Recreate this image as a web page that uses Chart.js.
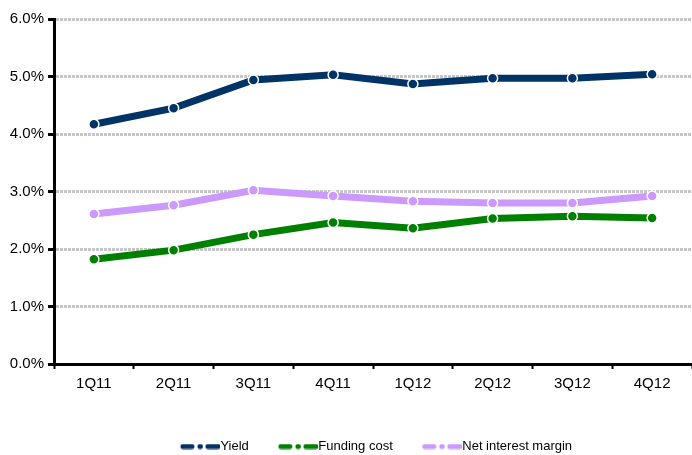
<!DOCTYPE html>
<html>
<head>
<meta charset="utf-8">
<script src="https://cdn.jsdelivr.net/npm/chart.js@4/dist/chart.umd.min.js"></script>
<style>
  body { margin: 0; background: #fff; }
</style>
</head>
<body>
<canvas id="myChart" width="692" height="455"></canvas>
<script>
var quarters = ['1Q11', '2Q11', '3Q11', '4Q11', '1Q12', '2Q12', '3Q12', '4Q12'];
var yieldPct = [4.17, 4.45, 4.94, 5.03, 4.87, 4.97, 4.97, 5.04];
var fundingCost = [1.82, 1.98, 2.25, 2.46, 2.36, 2.53, 2.57, 2.54];
var netInterestMargin = [2.61, 2.76, 3.02, 2.92, 2.83, 2.80, 2.80, 2.92];
var yTicks = [0, 1, 2, 3, 4, 5, 6];

Chart.defaults.font.family = '"Liberation Sans", Arial, sans-serif';
Chart.defaults.color = '#000';

// legend symbol: dash, dot, dash (drawn in the right 40px so it sits next to the text)
function legendSymbol(color) {
  var c = document.createElement('canvas');
  c.width = 52; c.height = 6;
  var g = c.getContext('2d');
  g.strokeStyle = color;
  g.lineWidth = 5;
  g.lineCap = 'round';
  g.beginPath();
  g.moveTo(15, 3); g.lineTo(24, 3);
  g.moveTo(32, 3); g.lineTo(32.5, 3);
  g.moveTo(40, 3); g.lineTo(50, 3);
  g.stroke();
  return c;
}

function series(label, data, color) {
  return {
    label: label,
    data: data,
    borderColor: color,
    backgroundColor: color,
    borderWidth: 7,
    pointRadius: 5,
    pointHoverRadius: 5,
    pointBorderColor: '#fff',
    pointBorderWidth: 1.5,
    pointBackgroundColor: color,
    tension: 0
  };
}

var ctx = document.getElementById('myChart');
var chart = new Chart(ctx, {
  type: 'line',
  data: {
    labels: quarters,
    datasets: [
      series('Yield', yieldPct, '#003366'),
      series('Funding cost', fundingCost, '#008000'),
      series('Net interest margin', netInterestMargin, '#cc99ff')
    ]
  },
  options: {
    responsive: false,
    animation: false,
    devicePixelRatio: 1,
    layout: { autoPadding: false, padding: { top: 19, right: 0, left: 0, bottom: -8 } },
    plugins: {
      tooltip: { enabled: false },
      legend: {
        position: 'bottom',
        fullSize: false,
        labels: {
          usePointStyle: true,
          pointStyleWidth: 40,
          padding: 23,
          font: { size: 13 },
          generateLabels: function (ch) {
            var items = Chart.defaults.plugins.legend.labels.generateLabels(ch);
            items.forEach(function (it) {
              it.pointStyle = legendSymbol(ch.data.datasets[it.datasetIndex].borderColor);
            });
            return items;
          }
        }
      }
    },
    scales: {
      x: {
        offset: true,
        afterFit: function (scale) { scale.height += 18; },
        grid: {
          offset: true,
          drawOnChartArea: false,
          tickLength: 5,
          tickColor: '#000',
          tickWidth: 2
        },
        border: { color: '#000', width: 3 },
        ticks: { font: { size: 15 }, padding: 6 }
      },
      y: {
        min: 0,
        max: 6,
        afterFit: function (scale) { scale.width = 54; },
        afterBuildTicks: function (scale) {
          scale.ticks = yTicks.map(function (v) { return { value: v }; });
        },
        grid: {
          color: '#c6c6c6',
          lineWidth: 3,
          tickLength: 6,
          tickColor: '#000',
          tickWidth: 3
        },
        border: { color: '#000', width: 3, dash: [3, 1] },
        ticks: {
          font: { size: 15 },
          padding: 4,
          callback: function (v) { return v.toFixed(1) + '%'; }
        }
      }
    }
  }
});
</script>
</body>
</html>
